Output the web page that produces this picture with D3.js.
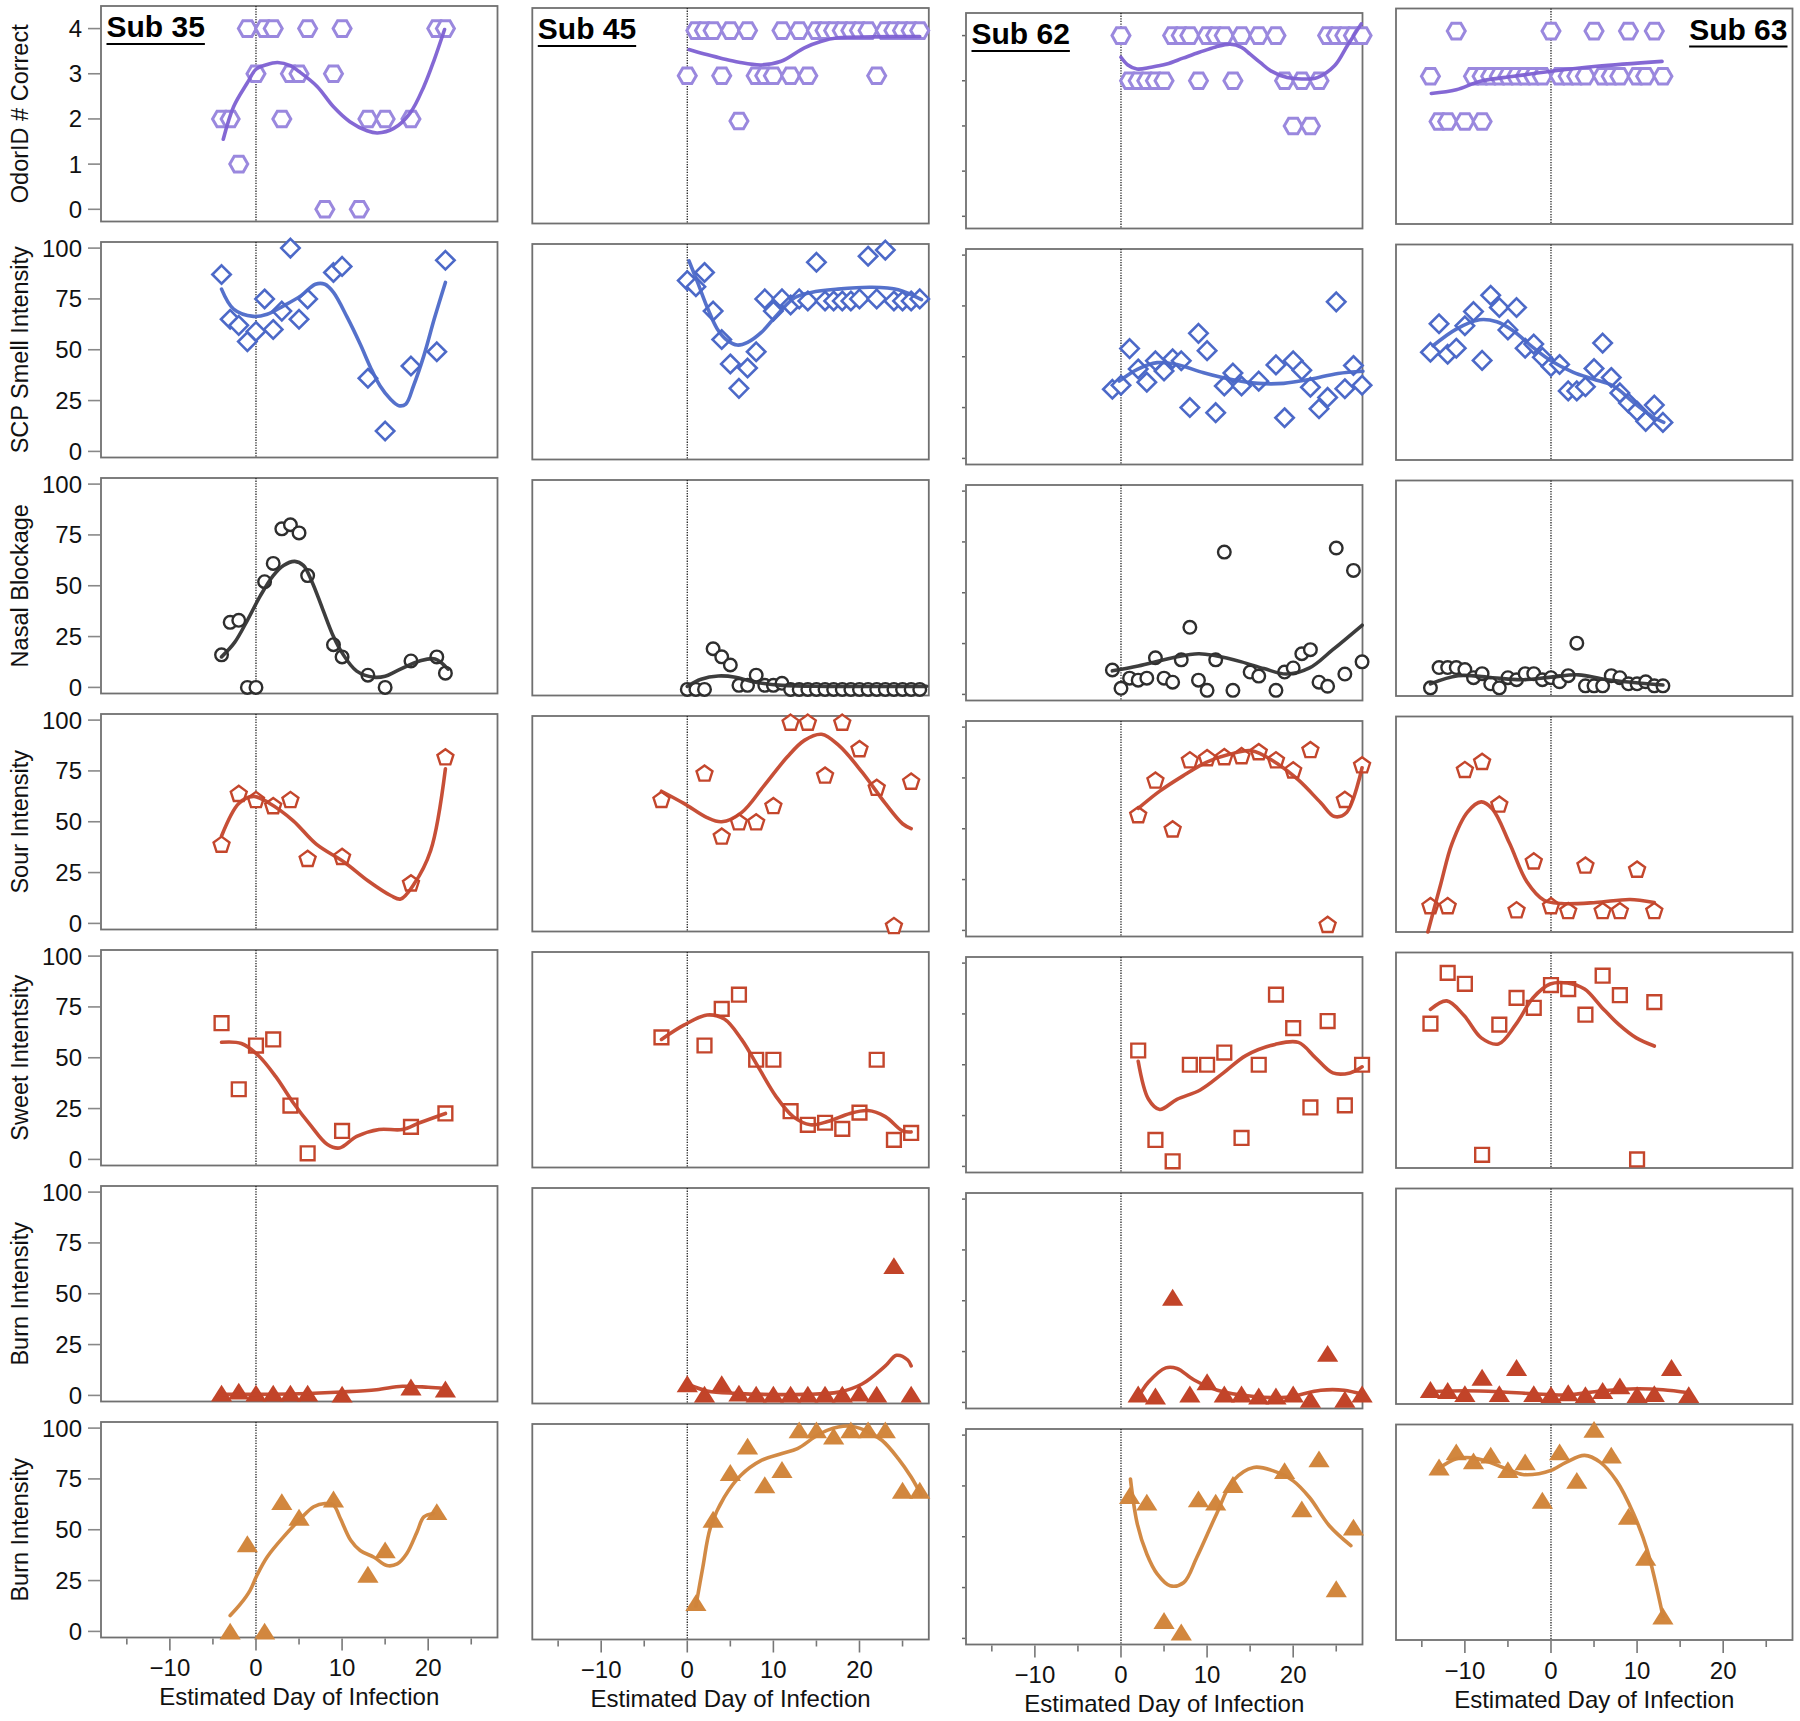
<!DOCTYPE html>
<html><head><meta charset="utf-8">
<script src="https://cdn.jsdelivr.net/npm/d3@7"></script>
<style>body{margin:0;background:#fff} text{font-family:"Liberation Sans",Arial,Helvetica,sans-serif}</style>
</head><body><svg id="c" width="1800" height="1721"></svg>
<script>
// ---------------- DATA ----------------
const subjects = ["Sub 35", "Sub 45", "Sub 62", "Sub 63"];
const rowTitles = ["OdorID # Correct", "SCP Smell Intensity", "Nasal Blockage", "Sour Intensity", "Sweet Intentsity", "Burn Intensity", "Burn Intensity"];
const odorTicks = [0, 1, 2, 3, 4];
const ratingTicks = [0, 25, 50, 75, 100];
const xMajorTicks = [-10, 0, 10, 20];
const xMinorTicks = [-15, -5, 5, 15, 25];
const xTitle = "Estimated Day of Infection";

// Row 1: OdorID # correct  [day, value]
const s35_odor = [[-4,2],[-3,2],[-2,1],[-1,4],[0,3],[1,4],[2,4],[3,2],[4,3],[5,3],[6,4],[8,0],[9,3],[10,4],[12,0],[13,2],[15,2],[18,2],[21,4],[22,4]];
const s45_odor = [[0,3],[1,4],[2,4],[3,4],[4,3],[5,4],[6,2],[7,4],[8,3],[9,3],[10,3],[11,4],[12,3],[13,4],[14,3],[15,4],[16,4],[17,4],[18,4],[19,4],[20,4],[21,4],[22,3],[23,4],[24,4],[25,4],[26,4],[27,4]];
const s62_odor = [[0,4],[1,3],[2,3],[3,3],[4,3],[5,3],[6,4],[7,4],[8,4],[9,3],[10,4],[11,4],[12,4],[13,3],[14,4],[16,4],[18,4],[19,3],[20,2],[21,3],[22,2],[23,3],[24,4],[25,4],[26,4],[27,4],[28,4]];
const s63_odor = [[-14,3],[-13,2],[-12,2],[-11,4],[-10,2],[-9,3],[-8,2],[-8,3],[-7,3],[-6,3],[-5,3],[-4,3],[-3,3],[-2,3],[-1,3],[0,4],[1,3],[2,3],[3,3],[4,3],[5,4],[6,3],[7,3],[8,3],[9,4],[10,3],[11,3],[12,4],[13,3]];
const s35_odor_fit = [[-3.8,1.55],[-2.6,2.27],[-1,2.8],[0,3.1],[1.2,3.2],[2.5,3.25],[4,3.18],[5,3.05],[7.1,2.72],[9,2.27],[10.9,1.94],[12.9,1.74],[14.1,1.69],[16,1.79],[17.9,2.13],[19.5,2.72],[20.7,3.31],[21.9,3.98]];
const s45_odor_fit = [[0.2,3.58],[2,3.48],[3.9,3.39],[6,3.3],[8.6,3.24],[10.9,3.32],[13.6,3.62],[15.5,3.76],[17.5,3.84],[21.6,3.86],[27,3.87]];
const s62_odor_fit = [[0,3.52],[0.8,3.35],[1.85,3.26],[3.5,3.3],[5.3,3.37],[7.2,3.5],[9.1,3.63],[11,3.75],[12.7,3.81],[14,3.74],[15,3.59],[16.2,3.4],[17.4,3.22],[19.3,3.07],[21,3.04],[22.8,3.07],[24.8,3.33],[26.3,3.78],[27.9,4.26]];
const s63_odor_fit = [[-13.9,2.62],[-11,2.7],[-8.2,2.89],[-4.3,3.0],[0,3.11],[5.3,3.22],[12.9,3.33]];

// Row 2: SCP smell intensity
const s35_scp = [[-4,87],[-3,65],[-2,62],[-1,54],[0,59],[1,75],[2,60],[3,69],[4,100],[5,65],[6,75],[9,88],[10,91],[13,36],[15,10],[18,42],[21,49],[22,94]];
const s45_scp = [[0,85],[1,82],[2,89],[3,70],[4,56],[5,44],[6,32],[7,42],[8,50],[9,76],[10,70],[11,76],[12,73],[13,76],[14,75],[15,94],[16,75],[17,75],[18,75],[19,75],[20,76],[21,97],[22,76],[23,100],[24,75],[25,75],[26,75],[27,76]];
const s62_scp = [[-1,34],[0,36],[1,54],[2,44],[3,37.5],[4,48],[5,43],[6,49],[7,48],[8,25],[9,61.5],[10,53],[11,22.5],[12,35.6],[13,42],[14,35.6],[16,38],[18,46],[19,20],[20,48],[21,43.4],[22,35],[23,24.4],[24,30],[25,77],[26,34.3],[27,45.7],[28,36]];
const s63_scp = [[-14,50],[-13,64],[-12,49],[-11,52],[-10,63],[-9,70],[-8,46],[-7,78],[-6,72],[-5,61],[-4,72],[-3,52],[-2,54],[-1,47.5],[0,43],[1,44],[2,31],[3,31],[4,33],[5,42],[6,54.5],[7,37.6],[8,30],[9,25],[10,21],[11,16],[12,24],[13,15.5]];
const s35_scp_fit = [[-4,79.8],[-2.6,70],[-0.3,66.4],[1.3,67.5],[3.2,71.6],[5.2,76.5],[6.9,82.2],[8,82.2],[9,78.2],[10.6,65.9],[12.1,52.8],[13.3,41.3],[14.4,32.3],[15.6,25.8],[16.6,22.5],[17.4,23.3],[18.3,32.3],[19.5,47.1],[20.7,65.1],[22,83.1]];
const s45_scp_fit = [[0.2,94.7],[1.2,84.1],[2.4,71],[3.5,61.1],[4.7,55.4],[5.8,53.3],[7,54.6],[8.6,59.5],[10.5,68.5],[12.5,76.7],[14.4,79.2],[17.5,80.8],[21.4,81.7],[24.5,80.5],[27.2,75.6]];
const s62_scp_fit = [[-0.2,38],[1.9,43.8],[4.2,47.1],[6.5,46.2],[9.6,42.1],[12.7,38.9],[15.9,36.9],[18.9,36.9],[22,38.9],[25.2,41.8],[28.1,42.9]];
const s63_scp_fit = [[-13.7,53.2],[-11,61.4],[-8.3,66],[-6.3,65],[-4.4,60.6],[-2.1,52.4],[0,45.8],[2.6,40.1],[4.9,36.8],[7.2,33.5],[9.6,25.3],[11.9,18],[13.1,15.5]];

// Row 3: nasal blockage
const s35_nasal = [[-4,16],[-3,32],[-2,33],[-1,0],[0,0],[1,52],[2,61],[3,78],[4,80],[5,76],[6,55],[9,21],[10,15],[13,6],[15,0],[18,13],[21,15],[22,7]];
const s45_nasal = [[0,0],[1,0],[2,0],[3,20],[4,16],[5,12],[6,2],[7,2],[8,7],[9,2],[10,2],[11,3],[12,0],[13,0],[14,0],[15,0],[16,0],[17,0],[18,0],[19,0],[20,0],[21,0],[22,0],[23,0],[24,0],[25,0],[26,0],[27,0]];
const s62_nasal = [[-1,12],[0,3],[1,8],[2,7],[3,8],[4,18],[5,8],[6,6],[7,17],[8,33],[9,7],[10,2],[11,17],[12,70],[13,2],[15,11],[16,9],[18,2],[19,11],[20,13],[21,20],[22,22],[23,6],[24,4],[25,72],[26,10],[27,61],[28,16]];
const s63_nasal = [[-14,1],[-13,11],[-12,11],[-11,11],[-10,10],[-9,6],[-8,8],[-7,3],[-6,1],[-5,6],[-4,5],[-3,8],[-2,8],[-1,5],[0,6],[1,4],[2,7],[3,23],[4,2],[5,2],[6,2],[7,7],[8,6],[9,3],[10,3],[11,4],[12,2],[13,2]];
const s35_nasal_fit = [[-4,15],[-2.5,22],[-1,33],[0.5,45],[2,55],[3.2,60],[4.5,62],[5.5,60],[6.5,52],[7.7,39],[9,25],[10,17],[11.7,8],[13.7,5],[15,5.5],[16.3,8],[19,13],[20.8,14],[22.3,9]];
const s45_nasal_fit = [[0,1.5],[1.6,5],[3.6,6.6],[5.6,6],[7.6,3.8],[11,2],[16.3,1.5],[27.8,1.5]];
const s62_nasal_fit = [[-1,11.6],[2,14],[6,18],[9,20],[11,19],[14,16],[16.6,12.7],[19.2,10],[21.9,13],[24.6,22],[28,34]];
const s63_nasal_fit = [[-14,3],[-10.8,7],[-6.8,6],[-3.5,5],[0,6.3],[3.2,7.4],[6.5,5],[13,2.4]];

// Row 4: sour intensity
const s35_sour = [[-4,39],[-2,64],[0,61],[2,58],[4,61],[6,32],[10,33],[18,20],[22,82]];
const s45_sour = [[-3,62],[2,75],[4,44],[6,51],[8,51],[10,59],[12,100],[14,100],[16,74],[18,100],[20,87],[22,68],[24,0],[26,71]];
const s62_sour = [[2,57],[4,74],[6,50],[8,84],[10,85],[12,85.5],[14,86],[16,88],[18,84],[20,79],[22,89],[24,3],[26,64.5],[28,81.5]];
const s63_sour = [[-14,10],[-12,10],[-10,77],[-8,81],[-6,60],[-4,8],[-2,32],[0,10],[2,7.6],[4,30],[6,7.6],[8,7.6],[10,28],[12,7.6]];
const s35_sour_fit = [[-4,43],[-2,59],[-0.3,62.5],[1.6,59],[4.3,50.6],[7,39],[10.3,30],[13,21],[15.7,13.6],[16.8,12],[18.3,19],[20.3,36],[22,76]];
const s45_sour_fit = [[-3,66],[-0.4,60],[2.3,53],[4,51],[6.3,55.5],[8.9,68.6],[11.6,82.8],[13.6,91],[15.6,94],[17.6,88.5],[20.3,75.4],[23,60],[25,50],[26,47.6]];
const s62_sour_fit = [[2,60],[4.5,68.5],[7.2,76],[9.9,82.7],[12.6,86.6],[15.2,88.4],[17.9,82.7],[20.6,74],[23.2,62.8],[24.8,56],[26.2,58],[28,80]];
const s63_sour_fit = [[-14.3,-3],[-12.8,20.6],[-11.5,40.5],[-9.7,56],[-8.1,61],[-6.8,57.5],[-4.8,40.5],[-2.8,21.7],[-0.8,12.6],[1.2,11],[5.2,11.5],[9.2,13],[12,11.5]];

// Row 5: sweet intensity
const s35_sweet = [[-4,67],[-2,34.5],[0,56],[2,59],[4,26.5],[6,3],[10,14],[18,16],[22,22.6]];
const s45_sweet = [[-3,61],[2,57],[4,75],[6,82],[8,50],[10,50],[12,24.7],[14,18],[16,19],[18,16],[20,24],[22,50],[24,10.6],[26,14]];
const s62_sweet = [[2,57],[4,13],[6,2.5],[8,50],[10,50],[12,56],[14,14],[16,50],[18,84.5],[20,68],[22,29],[24,71.5],[26,30],[28,50]];
const s63_sweet = [[-14,68],[-12,93],[-10,87.6],[-8,3.5],[-6,67.5],[-4,80.7],[-2,75.8],[0,87],[2,85],[4,72.4],[6,91.6],[8,82],[10,1.2],[12,78.6]];
const s35_sweet_fit = [[-4,57.6],[-1.7,57],[0.3,51],[2.3,40.7],[4.3,28],[6.3,17],[8.3,7.3],[9.7,5.6],[11.7,11.3],[14.3,14.7],[17,14.7],[19,18],[22,22.6]];
const s45_sweet_fit = [[-3,60],[-0.4,67],[2.3,72],[4.3,70],[6.3,60],[8.3,46],[10.3,32],[12.3,22],[14.3,18],[16.3,19.6],[18.9,23.6],[21,25],[23,22],[25,15],[26,14.5]];
const s62_sweet_fit = [[2,51.7],[3.2,33],[4.5,28],[6.5,33],[9.2,37.6],[11.9,46],[14.5,54.5],[17.9,60],[20.6,61],[22.6,53.4],[24.6,46],[26.6,46],[28,49]];
const s63_sweet_fit = [[-14,75],[-12.1,79.2],[-10.1,72],[-8.1,61],[-6.1,58],[-4.1,67.5],[-2.1,80.6],[-0.1,87.5],[1.9,88],[3.9,85],[5.9,76],[7.9,67.5],[9.9,61],[12,57]];

// Row 6: burn intensity (red)
const s35_burn = [[-4,1],[-2,2],[0,1],[2,1],[4,1],[6,1],[10,0.5],[18,4],[22,3]];
const s45_burn = [[0,6.6],[2,1.5],[4,6.6],[6,2],[8,1.5],[10,1.5],[12,1.5],[14,1.5],[16,1.5],[18,1.5],[20,2],[22,1.5],[24,64.7],[26,1.5]];
const s62_burn = [[2,4],[4,3],[6,51.6],[8,4],[10,10],[12,4],[14,4],[16,3],[18,3],[20,4],[22,1.4],[24,24],[26,1.4],[28,4]];
const s63_burn = [[-14,4],[-12,3.5],[-10,2],[-8,10],[-6,2],[-4,14.8],[-2,2],[0,1.5],[2,2.4],[4,1.5],[6,3.5],[8,5.8],[10,1.5],[12,2],[14,14.8],[16,1.5]];
const s35_burn_fit = [[-4,0.5],[0,0.5],[5,0.8],[10,1.7],[14,2.8],[17,4.5],[20,4],[22,3.4]];
const s45_burn_fit = [[0,6.6],[2.3,3.2],[5.6,2],[13.6,1.5],[17.6,2.6],[20.3,6.6],[23,15.5],[24.3,20.7],[25.6,18.4],[26,15.5]];
const s62_burn_fit = [[2,2.5],[3.2,10],[5.2,17],[6.5,16.7],[8.5,11],[11.2,6],[15.2,3],[19.2,2.5],[23.2,6],[25.9,6],[28,4]];
const s63_burn_fit = [[-14,3],[-10,3.5],[-6,3],[-2,2],[2,1.5],[6,3.5],[10,4.5],[13,4],[16,2.5]];

// Row 7: burn intensity (orange)
const s35_burn2 = [[-3,0],[-1,43],[1,0],[3,63.7],[5,56],[9,65],[13,28],[15,40],[21,58.8]];
const s45_burn2 = [[1,15],[3,56],[5,79],[7,92],[9,73],[11,80.5],[13,100],[15,100],[17,97],[19,100],[21,100],[23,100],[25,70.3],[27,70.3]];
const s62_burn2 = [[1,70.2],[3,66.9],[5,8.7],[7,3],[9,68.5],[11,66.9],[13,75.6],[19,82.4],[21,63.6],[23,88.2],[25,24.3],[27,54.6]];
const s63_burn2 = [[-13,82],[-11,89.4],[-9,85],[-7,87.8],[-5,80.7],[-3,84.5],[-1,65.6],[1,89.4],[3,75.4],[5,100.5],[7,87.8],[9,57.7],[11,37.5],[13,8.7]];
const s35_burn2_fit = [[-3,7.8],[-1.8,13.5],[-0.7,20.1],[0.1,27.5],[1.3,36.6],[3.2,46.5],[5.2,55.5],[6.7,61.3],[8,62.9],[9,62.1],[9.8,55.5],[11,44.8],[12.1,39.8],[13.7,36.5],[15.2,32.4],[16.4,33.2],[17.5,38.2],[18.7,48.9],[19.5,56.3],[20.6,58]];
const s45_burn2_fit = [[1,13.5],[1.8,32.4],[2.7,52.2],[4.3,67],[6.2,77.7],[8.6,85.1],[10.9,88.4],[12.8,90.9],[14.8,96.6],[16.3,100],[18.7,102],[20.6,100],[22.6,95],[24.5,86],[26,76.9],[27.2,67.8]];
const s62_burn2_fit = [[1.1,78.4],[1.9,56.2],[3,41.5],[4.2,31.7],[5.7,25.9],[7.3,27.5],[8.8,39.8],[11.1,61.2],[13,77.5],[15.4,84.1],[17.7,82.4],[20,77.5],[21.9,69.3],[24.2,55.4],[26.7,45.6]];
const s63_burn2_fit = [[-13.1,81.2],[-11,86.2],[-9.1,86.6],[-7.2,84.5],[-4.9,80.7],[-3.3,78.4],[-1.4,78.8],[0,80.4],[1.8,84.5],[3.9,87.8],[5.7,84.5],[7.6,75.4],[9.6,59],[11.2,40.9],[13,8.7]];

// ---------------- ASSEMBLY ----------------
const pointsGrid = [
  [s35_odor, s45_odor, s62_odor, s63_odor],
  [s35_scp, s45_scp, s62_scp, s63_scp],
  [s35_nasal, s45_nasal, s62_nasal, s63_nasal],
  [s35_sour, s45_sour, s62_sour, s63_sour],
  [s35_sweet, s45_sweet, s62_sweet, s63_sweet],
  [s35_burn, s45_burn, s62_burn, s63_burn],
  [s35_burn2, s45_burn2, s62_burn2, s63_burn2]
];
const fitGrid = [
  [s35_odor_fit, s45_odor_fit, s62_odor_fit, s63_odor_fit],
  [s35_scp_fit, s45_scp_fit, s62_scp_fit, s63_scp_fit],
  [s35_nasal_fit, s45_nasal_fit, s62_nasal_fit, s63_nasal_fit],
  [s35_sour_fit, s45_sour_fit, s62_sour_fit, s63_sour_fit],
  [s35_sweet_fit, s45_sweet_fit, s62_sweet_fit, s63_sweet_fit],
  [s35_burn_fit, s45_burn_fit, s62_burn_fit, s63_burn_fit],
  [s35_burn2_fit, s45_burn2_fit, s62_burn2_fit, s63_burn2_fit]
];

// styles per row
const rowStyle = [
  {shape:"hex", stroke:"#9a88de", line:"#7d60d2", fill:"#fff", sw:3},
  {shape:"diamond", stroke:"#4c69c8", line:"#4c69c8", fill:"#fff", sw:2.6},
  {shape:"circle", stroke:"#2e2e2e", line:"#333333", fill:"#fff", sw:2.4},
  {shape:"pentagon", stroke:"#c4462c", line:"#c4462c", fill:"#fff", sw:2.4},
  {shape:"square", stroke:"#c4462c", line:"#c4462c", fill:"#fff", sw:2.4},
  {shape:"triangle", stroke:"none", line:"#c24429", fill:"#c24429", sw:0},
  {shape:"triangle", stroke:"none", line:"#d0843b", fill:"#d2873e", sw:0}
];

function shapePath(s){
  if(s==="hex"){const r=9, h=r*Math.sqrt(3)/2; return `M${-r},0L${-r/2},${-h}L${r/2},${-h}L${r},0L${r/2},${h}L${-r/2},${h}Z`;}
  if(s==="diamond"){const r=9.2; return `M0,${-r}L${r},0L0,${r}L${-r},0Z`;}
  if(s==="circle"){const r=6.3; return `M${r},0A${r},${r} 0 1,1 ${-r},0A${r},${r} 0 1,1 ${r},0Z`;}
  if(s==="pentagon"){const r=8.4; let p=""; for(let i=0;i<5;i++){const a=-Math.PI/2+i*2*Math.PI/5; p+=(i?"L":"M")+(r*Math.cos(a)).toFixed(2)+","+(r*Math.sin(a)+0.9).toFixed(2);} return p+"Z";}
  if(s==="square"){const h=6.9; return `M${-h},${-h}H${h}V${h}H${-h}Z`;}
  if(s==="triangle"){return "M0,-8.7L10.6,8.2L-10.6,8.2Z";}
}

const svg = d3.select("#c");
const colLeft = [101, 532.3, 966, 1396];
const colYOff = [0, 2, 7, 2.5];
const panelW = 396.5, panelH = 215.5, rowPitch = 236, top0 = 6;

for(let r=0;r<7;r++){
  for(let c=0;c<4;c++){
    const left = colLeft[c], top = top0 + r*rowPitch + colYOff[c];
    const g = svg.append("g").attr("transform",`translate(${left},${top})`);
    const x = d3.scaleLinear().domain([-18,28.05]).range([0,panelW]);
    const y = r===0 ? d3.scaleLinear().domain([-0.27,4.5]).range([panelH,0])
                    : d3.scaleLinear().domain([-3,103]).range([panelH,0]);
    const st = rowStyle[r];
    // frame
    g.append("rect").attr("x",0).attr("y",0).attr("width",panelW).attr("height",panelH)
      .attr("fill","#fff").attr("stroke","#707070").attr("stroke-width",1.8);
    // zero line
    g.append("line").attr("x1",x(0)).attr("x2",x(0)).attr("y1",0).attr("y2",panelH)
      .attr("stroke","#222").attr("stroke-width",1.3).attr("stroke-dasharray","1.3,1.3");
    const ticks = r===0 ? odorTicks : ratingTicks;
    if(c===0){
      const ya = g.append("g");
      ya.selectAll("line").data(ticks).join("line")
        .attr("x1",-13).attr("x2",-1).attr("y1",d=>y(d)).attr("y2",d=>y(d))
        .attr("stroke","#888").attr("stroke-width",1.6);
      ya.selectAll("text").data(ticks).join("text")
        .attr("x",-19).attr("y",d=>y(d)).attr("dy","0.35em").attr("text-anchor","end")
        .attr("font-size",24).attr("fill","#111").text(d=>d);
      svg.append("text").attr("transform",`translate(28,${top+panelH/2}) rotate(-90)`)
        .attr("text-anchor","middle").attr("font-size",23.5).attr("fill","#111").text(rowTitles[r]);
    } else if(c===2){
      g.append("g").selectAll("line").data(ticks).join("line")
        .attr("x1",-4).attr("x2",-1).attr("y1",d=>y(d)).attr("y2",d=>y(d))
        .attr("stroke","#666").attr("stroke-width",1.5);
    }
    // points
    const pts = pointsGrid[r][c];
    g.append("g").selectAll("path").data(pts).join("path")
      .attr("transform",d=>`translate(${x(d[0])},${y(d[1])})`)
      .attr("d",shapePath(st.shape))
      .attr("fill",st.fill).attr("stroke",st.stroke).attr("stroke-width",st.sw);
    // fit line
    const line = d3.line().x(d=>x(d[0])).y(d=>y(d[1])).curve(d3.curveCatmullRom.alpha(0.5));
    g.append("path").attr("d",line(fitGrid[r][c])).attr("fill","none")
      .attr("stroke",st.line).attr("stroke-width",3.6).attr("stroke-linecap","round")
      .attr("stroke-opacity",0.95);
    // x axis on last row
    if(r===6){
      const xa = g.append("g").attr("transform",`translate(0,${panelH})`);
      xa.selectAll("line.maj").data(xMajorTicks).join("line").attr("class","maj")
        .attr("x1",d=>x(d)).attr("x2",d=>x(d)).attr("y1",1).attr("y2",13)
        .attr("stroke","#777").attr("stroke-width",1.6);
      xa.selectAll("line.min").data(xMinorTicks).join("line").attr("class","min")
        .attr("x1",d=>x(d)).attr("x2",d=>x(d)).attr("y1",1).attr("y2",7)
        .attr("stroke","#777").attr("stroke-width",1.6);
      xa.selectAll("text").data(xMajorTicks).join("text")
        .attr("x",d=>x(d)).attr("y",38.5).attr("text-anchor","middle")
        .attr("font-size",24).attr("fill","#111").text(d=>d<0?"\u2212"+Math.abs(d):d);
      xa.append("text").attr("x",panelW/2).attr("y",67.5).attr("text-anchor","middle")
        .attr("font-size",24).attr("fill","#111").text(xTitle);
    }
    // subject label
    if(r===0){
      const tx = c===3 ? panelW-5 : 5.5;
      const t = g.append("text").attr("x",tx).attr("y",31)
        .attr("text-anchor",c===3?"end":"start").attr("font-size",30).attr("font-weight","bold")
        .attr("fill","#000").text(subjects[c]);
      const w = t.node().getComputedTextLength();
      const x0 = c===3 ? tx-w : tx;
      g.append("line").attr("x1",x0).attr("x2",x0+w).attr("y1",38).attr("y2",38)
        .attr("stroke","#000").attr("stroke-width",2);
    }
  }
}
</script>
</body></html>
